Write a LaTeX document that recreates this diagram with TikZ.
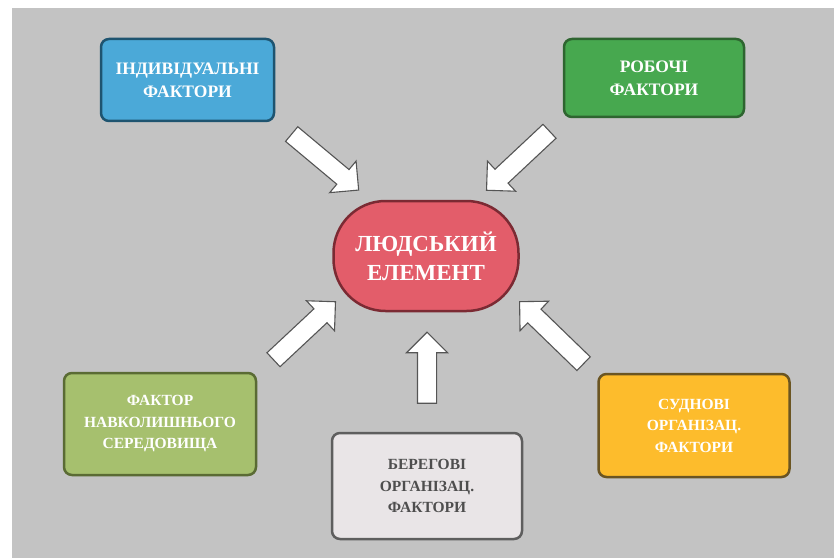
\documentclass[tikz,border=0pt]{standalone}
\usepackage{fontspec}
\setmainfont{Liberation Serif}
\usetikzlibrary{shapes.arrows,calc}
\definecolor{bgc}{HTML}{C3C3C3}
\definecolor{bluef}{HTML}{4BA9D8}
\definecolor{blueb}{HTML}{1E5470}
\definecolor{greenf}{HTML}{47A84F}
\definecolor{greenb}{HTML}{2E6530}
\definecolor{redf}{HTML}{E35D6A}
\definecolor{redb}{HTML}{7B2A33}
\definecolor{olivef}{HTML}{A6C06E}
\definecolor{oliveb}{HTML}{5A6B34}
\definecolor{grayf}{HTML}{E9E5E7}
\definecolor{grayb}{HTML}{5E5E5E}
\definecolor{orangef}{HTML}{FDBC2C}
\definecolor{orangeb}{HTML}{6B5522}
\definecolor{arrb}{HTML}{555555}
\definecolor{darktext}{HTML}{4E4E4E}
\tikzset{
  box/.style={rectangle, rounded corners=8pt, line width=2.5pt, align=center,
    text=white, inner sep=0pt},
  bigfont/.style={font=\bfseries\fontsize{17.5}{23}\selectfont},
  midfont/.style={font=\bfseries\fontsize{15.5}{21.5}\selectfont},
  blockarrow/.style={single arrow, draw=arrb, fill=white, line width=1.1pt,
    inner xsep=0pt, inner ysep=9pt, minimum width=0pt,
    single arrow head extend=11pt, single arrow tip angle=90,
    anchor=center, sloped, allow upside down}
}
\begin{document}
\begin{tikzpicture}[x=1pt,y=1pt]
\useasboundingbox (0,0) rectangle (834,558);
\fill[bgc] (12,0) rectangle (834,550);

\node[box, bigfont, fill=bluef, draw=blueb, minimum width=173pt, minimum height=82pt] (ind) at (187.5,478) {ІНДИВІДУАЛЬНІ\\ФАКТОРИ};
\node[box, bigfont, fill=greenf, draw=greenb, minimum width=180pt, minimum height=78pt] (rob) at (654,480) {РОБОЧІ\\ФАКТОРИ};
\node[box, rounded corners=52pt, fill=redf, draw=redb, minimum width=185pt, minimum height=110pt,
  font=\bfseries\fontsize{23}{29}\selectfont] (lud) at (426,302) {ЛЮДСЬКИЙ\\ЕЛЕМЕНТ};
\node[box, midfont, fill=olivef, draw=oliveb, minimum width=192pt, minimum height=102pt] (nav) at (160,134) {ФАКТОР\\НАВКОЛИШНЬОГО\\СЕРЕДОВИЩА};
\node[box, midfont, fill=grayf, draw=grayb, text=darktext, minimum width=190pt, minimum height=106pt] (ber) at (427,72) {БЕРЕГОВІ\\ОРГАНІЗАЦ.\\ФАКТОРИ};
\node[box, midfont, fill=orangef, draw=orangeb, minimum width=191pt, minimum height=103pt] (sud) at (694,132.5) {СУДНОВІ\\ОРГАНІЗАЦ.\\ФАКТОРИ};

% arrow end points
\coordinate (t1) at (288,427); \coordinate (h1) at (355,371);
\coordinate (t2) at (553,430); \coordinate (h2) at (490,371);
\coordinate (t3) at (270,195); \coordinate (h3) at (332,253);
\coordinate (t4) at (427,150); \coordinate (h4) at (427,221);
\coordinate (t5) at (587,191); \coordinate (h5) at (523,253);

\foreach \i in {1,...,5}{
  \path let \p1=($(h\i)-(t\i)$) in (t\i) -- (h\i)
    node[blockarrow, midway, minimum height={veclen(\x1,\y1)}] (a\i) {};
}
\end{tikzpicture}
\end{document}
